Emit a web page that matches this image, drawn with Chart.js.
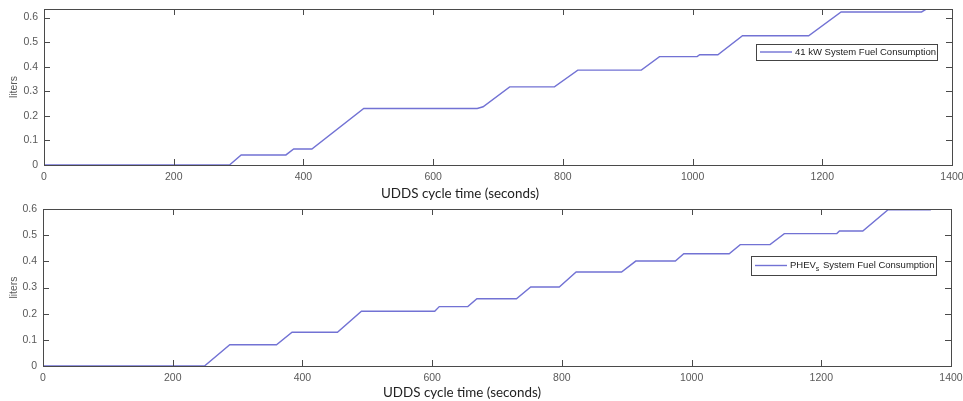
<!DOCTYPE html>
<html>
<head>
<meta charset="utf-8">
<script src="https://cdn.jsdelivr.net/npm/chart.js@4/dist/chart.umd.min.js"></script>
<style>
  html, body { margin: 0; padding: 0; background: #fff; }
  body { width: 963px; height: 401px; position: relative; overflow: hidden; }
  canvas { position: absolute; left: 0; }
  .xtitle {
    position: absolute; font-family: Lato, "Open Sans", sans-serif; font-size: 13.4px;
    color: #222; white-space: nowrap; transform: translate(-50%, -50%);
  }
</style>
</head>
<body>
<canvas id="topChart" width="963" height="200" style="top:0"></canvas>
<canvas id="bottomChart" width="963" height="201" style="top:200px"></canvas>
<div class="xtitle" style="left:460px; top:193px">UDDS cycle time (seconds)</div>
<div class="xtitle" style="left:462px; top:392px">UDDS cycle time (seconds)</div>
<script>
// x ticks (seconds)
const xTicks = [0, 200, 400, 600, 800, 1000, 1200, 1400];

// 41 kW system
const timeTop = [0, 286, 304, 373, 385, 413, 493, 668, 677, 718, 787, 823, 921, 949, 1007, 1011, 1039, 1077, 1179, 1229, 1353, 1361, 1371];
const fuelTop = [0, 0, 0.041, 0.041, 0.065, 0.065, 0.23, 0.23, 0.237, 0.318, 0.318, 0.386, 0.386, 0.441, 0.441, 0.449, 0.449, 0.526, 0.526, 0.623, 0.623, 0.635, 0.635];

// PHEVs system
const timeBottom = [0, 249, 288, 360, 384, 454, 491, 604, 611, 655, 669, 730, 752, 796, 822, 892, 914, 975, 988, 1058, 1075, 1121, 1143, 1224, 1228, 1264, 1303, 1369];
const fuelBottom = [0, 0, 0.081, 0.081, 0.129, 0.129, 0.209, 0.209, 0.227, 0.227, 0.257, 0.257, 0.302, 0.302, 0.359, 0.359, 0.401, 0.401, 0.429, 0.429, 0.464, 0.464, 0.506, 0.506, 0.516, 0.516, 0.597, 0.597];

const lineColor = "#7272d4";
const tickFont = { family: "'Liberation Sans', Arial, sans-serif", size: 10.5 };

// MATLAB-style box with inward ticks, plus a legend box inside the axes
const boxPlugin = {
    id: "matlabBox",
    afterDraw(chart, args, opts) {
        const ctx = chart.ctx;
        const a = chart.chartArea;
        const xs = chart.scales.x;
        const ys = chart.scales.y;
        ctx.save();
        ctx.strokeStyle = "#4a4a4a";
        ctx.lineWidth = 1;
        ctx.strokeRect(Math.round(a.left) + 0.5, Math.round(a.top) + 0.5, Math.round(a.right - a.left), Math.round(a.bottom - a.top));
        ctx.beginPath();
        xs.ticks.forEach((t) => {
            const px = Math.round(xs.getPixelForValue(t.value)) + 0.5;
            ctx.moveTo(px, a.top); ctx.lineTo(px, a.top + 6);
            ctx.moveTo(px, a.bottom); ctx.lineTo(px, a.bottom - 6);
        });
        ys.ticks.forEach((t) => {
            const py = Math.round(ys.getPixelForValue(t.value)) + 0.5;
            ctx.moveTo(a.left, py); ctx.lineTo(a.left + 6, py);
            ctx.moveTo(a.right, py); ctx.lineTo(a.right - 6, py);
        });
        ctx.stroke();

        // legend
        const L = opts.legend;
        ctx.fillStyle = "#fff";
        ctx.fillRect(L.x, L.y, L.w, L.h);
        ctx.strokeStyle = "#444";
        ctx.strokeRect(L.x + 0.5, L.y + 0.5, L.w, L.h);
        const my = L.y + L.h / 2;
        ctx.strokeStyle = lineColor;
        ctx.lineWidth = 1.4;
        ctx.beginPath();
        ctx.moveTo(L.x + 4, my); ctx.lineTo(L.x + 36, my);
        ctx.stroke();
        ctx.fillStyle = "#222";
        ctx.textBaseline = "middle";
        let tx = L.x + 39;
        L.parts.forEach((p) => {
            ctx.font = (p.sub ? "7px" : "9.5px") + " 'Liberation Sans', Arial, sans-serif";
            ctx.fillText(p.text, tx, p.sub ? my + 4 : my);
            tx += ctx.measureText(p.text).width + (p.sub ? 1 : 0);
        });
        ctx.restore();
    }
};

function makeChart(id, times, fuel, label, yMax, yWidth, rightPad, legend) {
    return new Chart(document.getElementById(id), {
        type: "line",
        data: {
            datasets: [{
                label: label,
                data: times.map((t, i) => ({ x: t, y: fuel[i] })),
                borderColor: lineColor,
                borderWidth: 1.4,
                pointRadius: 0,
                tension: 0,
                fill: false,
            }],
        },
        options: {
            responsive: false,
            animation: false,
            layout: { padding: { top: 9, right: rightPad, left: 0, bottom: 0 } },
            plugins: {
                legend: { display: false },
                tooltip: { enabled: false },
                matlabBox: { legend: legend },
            },
            scales: {
                x: {
                    type: "linear",
                    min: 0,
                    max: 1400,
                    afterBuildTicks: (s) => { s.ticks = xTicks.map((v) => ({ value: v })); },
                    grid: { display: false, drawTicks: false },
                    border: { display: false },
                    ticks: { font: tickFont, color: "#595959", padding: 6, maxRotation: 0, callback: (v) => String(v) },
                    afterFit: (s) => { s.height = 35; s.paddingLeft = 0; s.paddingRight = 0; },
                },
                y: {
                    type: "linear",
                    min: 0,
                    max: yMax,
                    grid: { display: false, drawTicks: false },
                    border: { display: false },
                    ticks: { font: tickFont, color: "#595959", padding: 6, stepSize: 0.1, includeBounds: false,
                        callback: (v) => String(Math.round(v * 10) / 10) },
                    title: { display: true, text: "liters", font: tickFont, color: "#595959", padding: { top: 8, bottom: 0 } },
                    afterFit: (s) => { s.width = yWidth; s.paddingTop = 0; s.paddingBottom = 0; },
                },
            },
        },
        plugins: [boxPlugin],
    });
}

makeChart("topChart", timeTop, fuelTop, "41 kW System Fuel Consumption", 0.635, 44, 11,
    { x: 756, y: 44, w: 181, h: 16, parts: [{ text: "41 kW System Fuel Consumption" }] });

makeChart("bottomChart", timeBottom, fuelBottom, "PHEVs System Fuel Consumption", 0.6, 43, 12,
    { x: 751, y: 56, w: 185, h: 19, parts: [{ text: "PHEV" }, { text: "s", sub: true }, { text: " System Fuel Consumption" }] });
</script>
</body>
</html>
